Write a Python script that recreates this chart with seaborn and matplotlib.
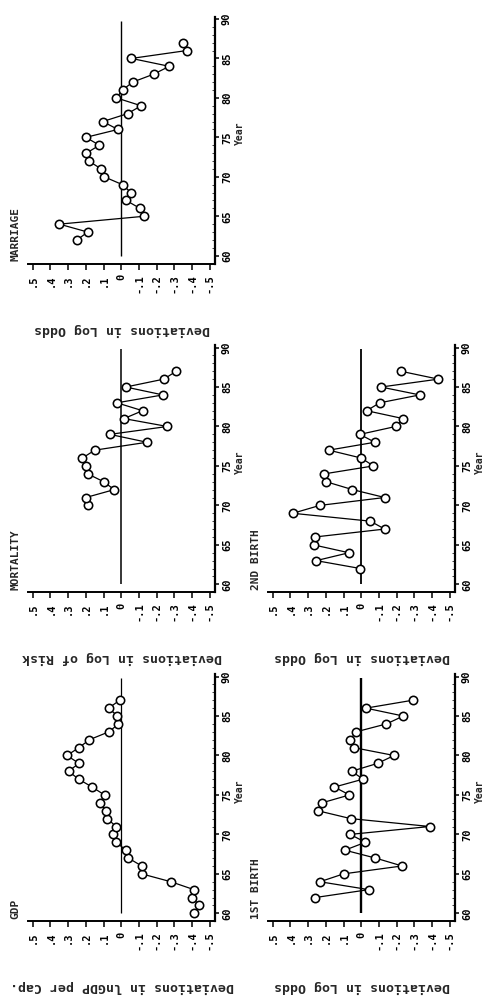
import matplotlib
matplotlib.use("Agg")
import matplotlib.pyplot as plt
import pandas as pd
import seaborn as sns
from matplotlib.ticker import MultipleLocator

sns.set_style("white")
plt.rcParams["font.family"] = ["DejaVu Sans Mono"]
plt.rcParams["font.weight"] = "bold"

# ---- data (years are 19xx) ----
GDP_YEARS = list(range(60, 88))
GDP = [-0.41, -0.44, -0.40, -0.41, -0.28, -0.115, -0.115, -0.04, -0.027, 0.03,
       0.046, 0.03, 0.079, 0.087, 0.12, 0.095, 0.165, 0.241, 0.298, 0.239,
       0.307, 0.239, 0.18, 0.07, 0.016, 0.022, 0.071, 0.01]

MORTALITY_YEARS = list(range(70, 88))
MORTALITY = [0.19, 0.20, 0.04, 0.10, 0.19, 0.20, 0.22, 0.15, -0.145, 0.065,
             -0.26, -0.015, -0.12, 0.025, -0.235, -0.025, -0.24, -0.31]

MARRIAGE_YEARS = list(range(62, 88))
MARRIAGE = [0.25, 0.19, 0.35, -0.13, -0.105, -0.028, -0.054, -0.007, 0.097, 0.114,
            0.184, 0.197, 0.124, 0.20, 0.019, 0.105, -0.035, -0.112, 0.028, -0.007,
            -0.064, -0.182, -0.271, -0.057, -0.37, -0.348]

BIRTH1_YEARS = list(range(62, 88))
BIRTH1 = [0.26, -0.042, 0.234, 0.10, -0.23, -0.08, 0.093, -0.023, 0.063, -0.387,
          0.06, 0.246, 0.222, 0.067, 0.152, -0.01, 0.055, -0.092, -0.185, 0.044,
          0.063, 0.029, -0.142, -0.237, -0.026, -0.29]

BIRTH2_YEARS = list(range(62, 88))
BIRTH2 = [0.005, 0.255, 0.07, 0.27, 0.261, -0.132, -0.051, 0.387, 0.234, -0.132,
          0.05, 0.199, 0.208, -0.068, 0.0, 0.184, -0.076, 0.008, -0.194, -0.236,
          -0.03, -0.104, -0.33, -0.111, -0.435, -0.223]

VALUE_TICKS = [0.5, 0.4, 0.3, 0.2, 0.1, 0.0, -0.1, -0.2, -0.3, -0.4, -0.5]
VALUE_LABELS = [".5", ".4", ".3", ".2", ".1", "0", "-.1", "-.2", "-.3", "-.4", "-.5"]
YEAR_TICKS = [60, 65, 70, 75, 80, 85, 90]
YEAR_LABELS = ["60", "65", "70", "75", "80", "85", "90"]

# (title, axis label, years, values, column, row, zero-line width)
PANELS = [
    ("MARRIAGE", "Deviations in Log Odds", MARRIAGE_YEARS, MARRIAGE, 0, 0, 1.0),
    ("MORTALITY", "Deviations in Log of Risk", MORTALITY_YEARS, MORTALITY, 0, 1, 1.1),
    ("GDP", "Deviations in lnGDP per Cap.", GDP_YEARS, GDP, 0, 2, 0.9),
    ("2ND BIRTH", "Deviations in Log Odds", BIRTH2_YEARS, BIRTH2, 1, 1, 1.3),
    ("1ST BIRTH", "Deviations in Log Odds", BIRTH1_YEARS, BIRTH1, 1, 2, 1.7),
]

W, H = 484, 996
fig = plt.figure(figsize=(W / 100, H / 100), dpi=100)
fig.patch.set_facecolor("white")

COL_LEFT = [28 / W, 268 / W]
ROW_BOTTOM = [(H - 263.6) / H, (H - 592.2) / H, (H - 921.2) / H]
AX_W, AX_H = 187 / W, 247 / H

for title, label, years, values, col, row, zero_lw in PANELS:
    ax = fig.add_axes([COL_LEFT[col], ROW_BOTTOM[row], AX_W, AX_H])
    ax.set_facecolor("white")
    df = pd.DataFrame({"year": years, "value": values})

    ax.vlines(0, 60, 89.8, color="black", lw=zero_lw, zorder=2)
    sns.lineplot(data=df, x="value", y="year", orient="y", sort=False,
                 estimator=None, ax=ax, color="black", lw=0.9,
                 marker="o", markersize=6, markerfacecolor="white",
                 markeredgecolor="black", markeredgewidth=1.15, zorder=3)

    ax.set_xlim(0.527, -0.529)
    ax.set_ylim(59.0, 90.3)
    ax.set_xlabel("")
    ax.set_ylabel("")

    for side in ("top", "left"):
        ax.spines[side].set_visible(False)
    ax.spines["bottom"].set_linewidth(1.4)
    ax.spines["right"].set_linewidth(1.6)
    ax.spines["bottom"].set_color("black")
    ax.spines["right"].set_color("black")

    ax.set_xticks(VALUE_TICKS, VALUE_LABELS, rotation=90)
    ax.yaxis.tick_right()
    ax.set_yticks(YEAR_TICKS, YEAR_LABELS, rotation=90, va="center")
    ax.yaxis.set_minor_locator(MultipleLocator(1))
    ax.tick_params(axis="x", direction="out", length=4, width=1.1, pad=3.5,
                   labelsize=7.5, bottom=True, colors="black")
    ax.tick_params(axis="y", which="major", direction="out", length=3, width=1.1,
                   pad=2, labelsize=7.5, right=True, left=False, colors="black")
    ax.tick_params(axis="y", which="minor", direction="in", length=2, width=0.6,
                   right=True, left=False)

    ax.text(-0.066, 0.01, title, transform=ax.transAxes, rotation=90,
            ha="center", va="bottom", fontsize=8, fontweight="bold")
    ax.text(1.135, 0.527, "Year", transform=ax.transAxes, rotation=90,
            ha="center", va="center", fontsize=7, fontweight="bold")
    ax.text(0.5, -0.265, label, transform=ax.transAxes, rotation=180,
            ha="center", va="center", fontsize=9.5, fontweight="bold")

fig.savefig("out.png", dpi=100, facecolor="white")
